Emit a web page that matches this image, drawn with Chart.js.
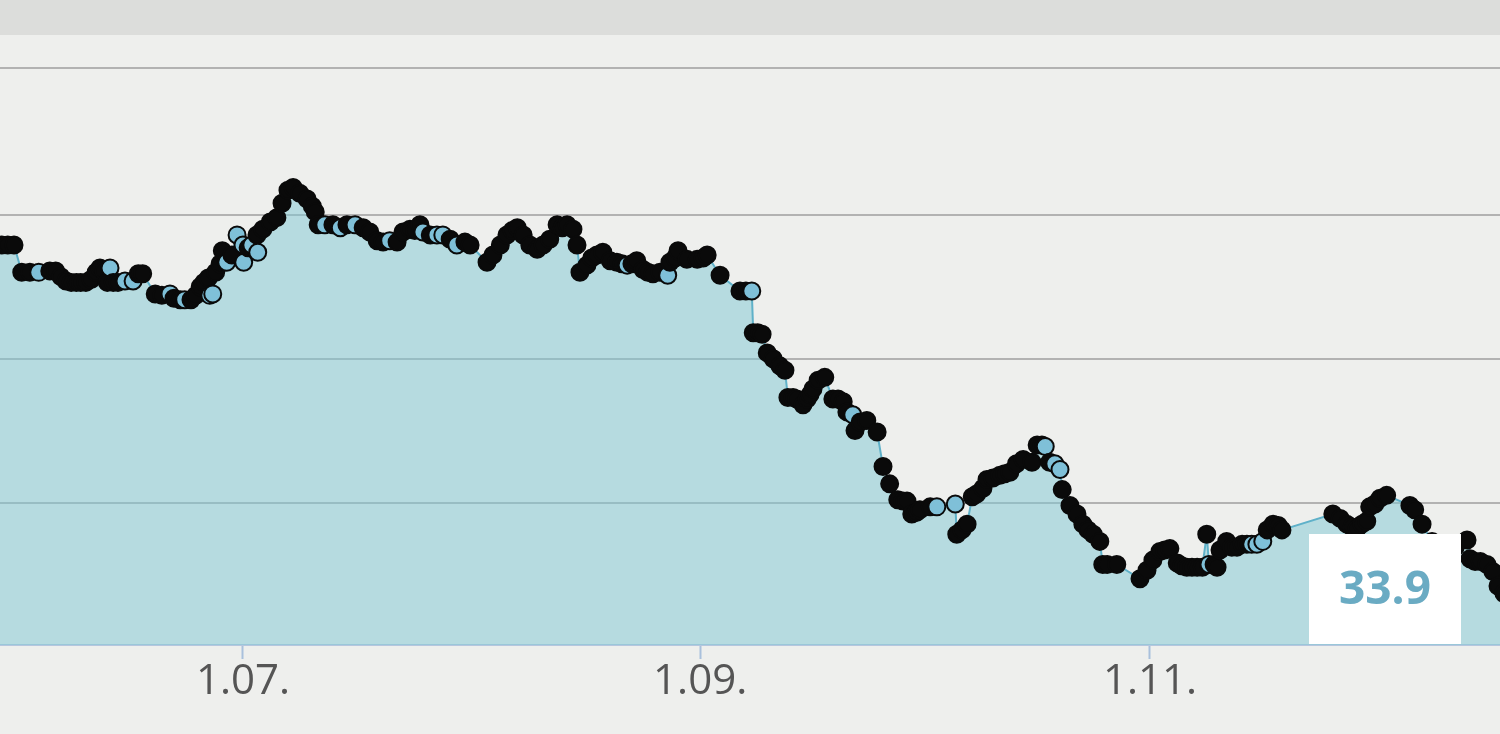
<!DOCTYPE html>
<html>
<head>
<meta charset="utf-8">
<script src="https://cdn.jsdelivr.net/npm/chart.js@4/dist/chart.umd.min.js"></script>
<style>
  html, body { margin: 0; padding: 0; background: #eeefed; overflow: hidden; }
  #band { width: 1500px; height: 35px; background: #dcdddb; }
  #wrap { width: 1500px; height: 699px; position: relative; }
</style>
</head>
<body>
<div id="band"></div>
<div id="wrap"><canvas id="c"></canvas></div>
<script>
// x values are day-of-year (0 = 1 Jan), y values are the measured series
const days = [
  147.5, 148.3, 149.1, 149.95, 151.0, 152.1, 153.3, 154.8, 155.6, 156.3, 157.0, 157.7, 158.4, 159.0, 159.7,
  160.4, 161.1, 161.6, 162.15, 162.6, 162.97, 163.4, 164.05, 165.0, 166.1, 166.8, 167.4, 169.1, 170.0,
  171.1, 171.65, 172.5, 173.1, 173.95, 174.6, 175.2, 175.7, 176.3, 176.5, 176.9, 177.3, 177.9, 178.2,
  178.8, 179.5, 180.2, 181.0, 181.1, 181.7, 182.2, 182.9, 183.0, 183.7, 184.7, 185.6, 186.3, 187.1,
  187.8, 188.7, 189.7, 190.4, 190.8, 191.2, 192.1, 193.2, 194.2, 195.1, 196.2, 197.3, 198.2, 199.2,
  200.0, 200.9, 201.9, 202.7, 203.65, 204.3, 205.0, 205.4, 206.4, 207.3, 208.1, 209.1, 210.0, 211.1,
  211.8, 214.1, 214.9, 215.9, 216.8, 217.5, 218.2, 219.0, 219.9, 220.9, 221.7, 222.6, 223.6, 224.3,
  224.95, 225.75, 226.3, 226.7, 227.65, 228.3, 229.0, 229.8, 230.8, 231.7, 232.4, 233.1, 233.75, 234.4,
  235.25, 235.9, 236.6, 237.55, 238.6, 238.9, 239.6, 240.0, 241.2, 242.6, 243.4, 243.95, 245.7, 248.4,
  249.2, 250.0, 250.2, 250.8, 251.4, 252.1, 252.9, 253.8, 254.5, 254.9, 255.6, 256.1, 256.95, 257.5,
  257.9, 258.3, 259.0, 259.9, 261.0, 261.7, 262.4, 262.9, 263.7, 264.0, 264.7, 265.6, 267.0, 267.8,
  268.7, 269.8, 270.5, 271.05, 271.7, 272.3, 272.8, 274.2, 275.1, 277.6, 277.8, 278.5, 279.2, 279.9,
  280.5, 281.35, 281.9, 282.7, 283.65, 284.3, 285.0, 285.9, 286.8, 288.0, 288.7, 289.35, 289.8, 290.4,
  291.1, 291.8, 292.1, 293.15, 294.1, 294.9, 295.6, 296.3, 297.2, 297.6, 298.2, 299.5, 302.65, 303.6,
  304.4, 305.35, 306.0, 306.7, 307.7, 308.3, 309.0, 309.7, 310.4, 311.1, 311.7, 312.0, 312.7, 313.1,
  313.5, 314.4, 315.1, 315.8, 316.5, 317.15, 317.8, 318.5, 319.3, 319.9, 320.7, 321.4, 321.9, 328.8,
  329.8, 330.7, 331.4, 332.1, 332.75, 333.4, 333.8, 334.5, 335.2, 336.1, 339.25, 339.9, 340.9, 342.25,
  344.0, 345.4, 347.0, 347.4, 348.1, 348.8, 349.7, 350.5, 351.2, 352.0
];
const values = [
  35.79, 35.79, 35.79, 35.79, 35.60, 35.60, 35.60, 35.61, 35.61, 35.57, 35.54, 35.53, 35.53, 35.53, 35.53,
  35.55, 35.60, 35.63, 35.61, 35.53, 35.63, 35.53, 35.53, 35.54, 35.54, 35.59, 35.59, 35.45, 35.44,
  35.45, 35.42, 35.41, 35.41, 35.41, 35.44, 35.50, 35.53, 35.56, 35.44, 35.45, 35.60, 35.66, 35.75,
  35.67, 35.72, 35.86, 35.79, 35.67, 35.77, 35.79, 35.86, 35.74, 35.90, 35.95, 35.98, 36.08, 36.17,
  36.19, 36.15, 36.11, 36.06, 36.02, 35.93, 35.93, 35.93, 35.91, 35.93, 35.93, 35.91, 35.88, 35.82,
  35.81, 35.82, 35.81, 35.88, 35.90, 35.89, 35.93, 35.88, 35.86, 35.86, 35.86, 35.83, 35.79, 35.81,
  35.79, 35.67, 35.72, 35.79, 35.86, 35.89, 35.91, 35.86, 35.79, 35.76, 35.79, 35.83, 35.93, 35.91,
  35.93, 35.90, 35.79, 35.60, 35.65, 35.70, 35.72, 35.74, 35.68, 35.67, 35.66, 35.65, 35.66, 35.68,
  35.62, 35.60, 35.59, 35.60, 35.58, 35.67, 35.70, 35.75, 35.69, 35.69, 35.70, 35.72, 35.58, 35.47,
  35.47, 35.47, 35.18, 35.18, 35.17, 35.04, 35.00, 34.95, 34.92, 34.73, 34.73, 34.72, 34.68, 34.72,
  34.75, 34.79, 34.85, 34.87, 34.72, 34.72, 34.70, 34.63, 34.61, 34.50, 34.56, 34.57, 34.49, 34.25,
  34.13, 34.02, 34.01, 34.01, 33.92, 33.93, 33.95, 33.97, 33.97, 33.99, 33.78, 33.81, 33.85, 34.04,
  34.06, 34.10, 34.16, 34.17, 34.19, 34.20, 34.21, 34.27, 34.30, 34.28, 34.40, 34.40, 34.39, 34.28,
  34.27, 34.23, 34.09, 33.98, 33.92, 33.85, 33.81, 33.78, 33.73, 33.57, 33.57, 33.57, 33.47, 33.53,
  33.60, 33.66, 33.67, 33.68, 33.58, 33.56, 33.55, 33.55, 33.55, 33.55, 33.78, 33.57, 33.57, 33.55,
  33.67, 33.73, 33.69, 33.69, 33.71, 33.71, 33.71, 33.71, 33.73, 33.81, 33.85, 33.84, 33.81, 33.92,
  33.89, 33.85, 33.83, 33.82, 33.85, 33.87, 33.97, 33.99, 34.03, 34.05, 33.98, 33.95, 33.85, 33.73,
  33.67, 33.69, 33.74, 33.61, 33.59, 33.59, 33.57, 33.52, 33.42, 33.37
];
// readings drawn with a light marker
const highlightDays = [153.3, 162.97, 165.0, 166.1, 171.1, 173.1, 176.5, 176.9, 178.8, 180.2, 181.0, 181.1,
  182.2, 183.0, 192.1, 194.2, 196.2, 200.9, 205.4, 207.3, 208.1, 210.0, 233.1, 238.6, 250.0, 263.7, 275.1,
  277.6, 289.8, 291.1, 291.8, 312.0, 317.8, 318.5, 319.3];
const tickDays = [181, 243, 304];
const tickLabels = ['1.07.', '1.09.', '1.11.'];
const gridValues = [34, 35, 36];
const currentLabel = '33.9';
const xRange = [148.05, 351.47];
const yRange = [33.01, 37.02];

const points = days.map((d, i) => ({ x: d, y: values[i] }));
const hiSet = new Set(highlightDays);

const labelBox = {
  id: 'labelBox',
  afterDatasetsDraw(chart) {
    const a = chart.chartArea, ctx = chart.ctx;
    const w = 152, h = 110;
    const x = a.right - 39 - w, y = a.bottom - 1 - h;
    ctx.save();
    ctx.fillStyle = '#ffffff';
    ctx.fillRect(x, y, w, h);
    ctx.fillStyle = '#6aabc3';
    ctx.font = 'bold 46px "Open Sans"';
    ctx.textAlign = 'center';
    ctx.textBaseline = 'middle';
    ctx.fillText(currentLabel, x + w / 2, y + h / 2 + 2);
    ctx.restore();
  }
};

new Chart(document.getElementById('c'), {
  type: 'line',
  data: {
    datasets: [{
      data: points,
      borderColor: '#5fb1c9',
      borderWidth: 2,
      backgroundColor: 'rgba(126,199,211,0.5)',
      fill: 'start',
      tension: 0,
      pointRadius: 8.5,
      pointBorderWidth: 2,
      pointBorderColor: '#0a0a0a',
      pointBackgroundColor: ctx => (ctx.raw && hiSet.has(ctx.raw.x)) ? '#7fc0d8' : '#0a0a0a',
      pointHoverRadius: 8.5
    }]
  },
  options: {
    responsive: true,
    maintainAspectRatio: false,
    animation: false,
    events: [],
    layout: { autoPadding: false, padding: { top: 33, left: 0, right: 0, bottom: 0 } },
    plugins: { legend: { display: false }, tooltip: { enabled: false } },
    scales: {
      x: {
        type: 'linear',
        min: xRange[0],
        max: xRange[1],
        afterBuildTicks: s => { s.ticks = tickDays.map(v => ({ value: v })); },
        afterFit: s => { s.height = 89; },
        ticks: {
          callback: v => tickLabels[tickDays.indexOf(v)],
          font: { family: '"Open Sans"', size: 42 },
          color: '#555555',
          padding: -2,
          maxRotation: 0,
          autoSkip: false
        },
        grid: { drawOnChartArea: false, drawTicks: true, tickLength: 14, tickWidth: 2, color: '#a9c0dc' },
        border: { display: true, color: '#b6c6de', width: 2 }
      },
      y: {
        min: yRange[0],
        max: yRange[1],
        afterFit: s => { s.width = 0; },
        afterBuildTicks: s => { s.ticks = gridValues.concat([yRange[1]]).map(v => ({ value: v })); },
        ticks: { display: false },
        grid: {
          drawTicks: false,
          lineWidth: 2,
          color: '#b2b2b2'
        },
        border: { display: false }
      }
    }
  },
  plugins: [labelBox]
});
</script>
</body>
</html>
